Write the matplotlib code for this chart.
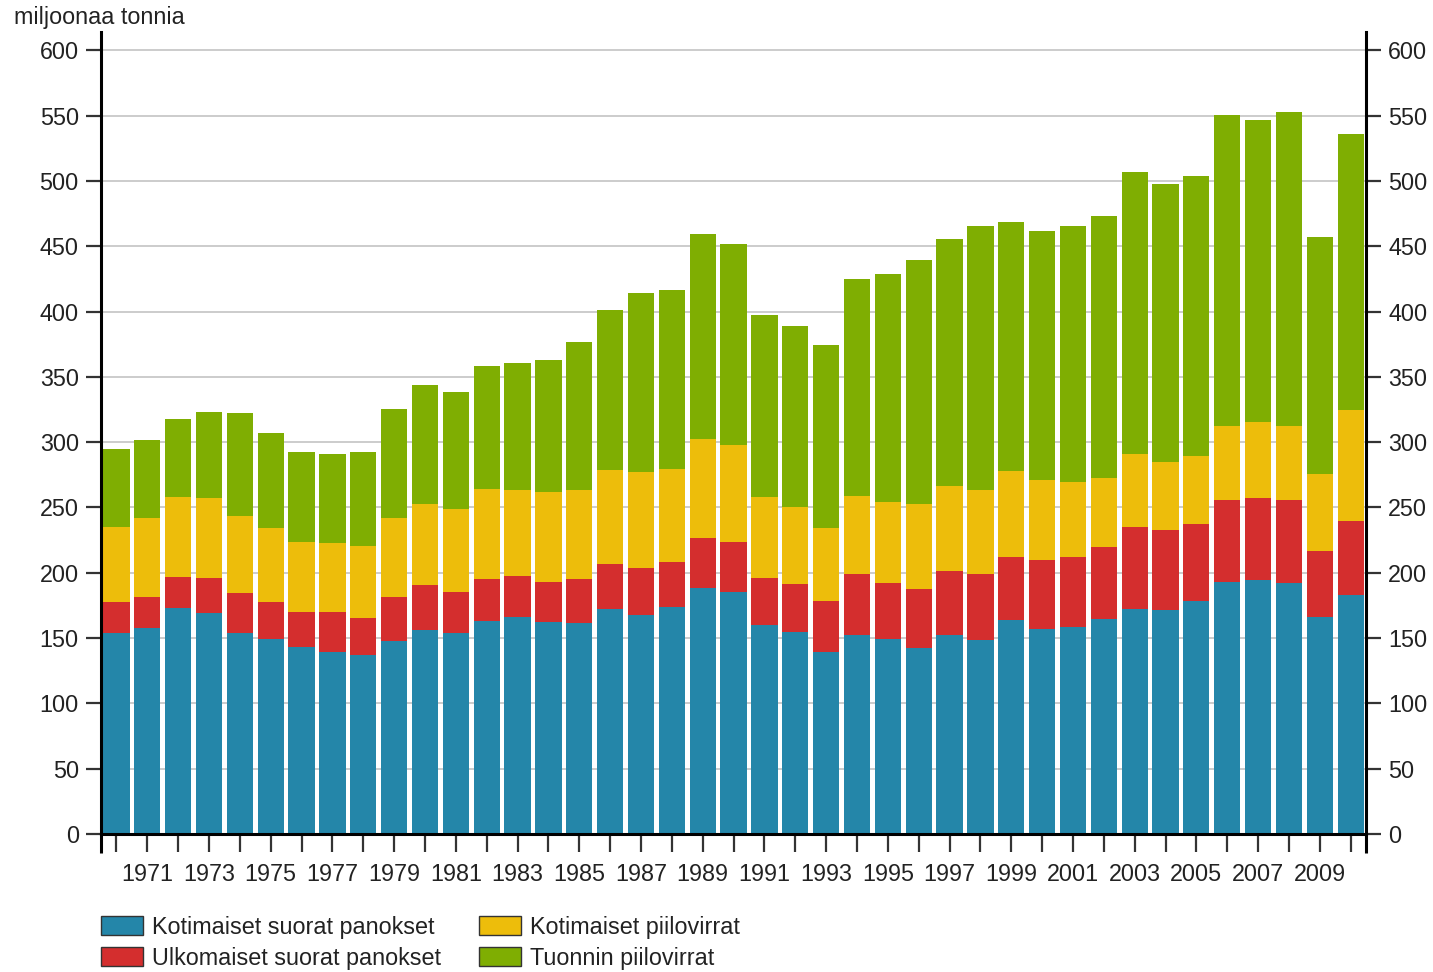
import numpy as np
import matplotlib
matplotlib.use('Agg')
import matplotlib.pyplot as plt
from matplotlib.patches import Patch

plt.rcParams['font.family'] = ['Liberation Sans', 'DejaVu Sans']

# vuodet 1970-2010
years = np.arange(1970, 2011)

# Kotimaiset suorat panokset (miljoonaa tonnia)
kotim_suorat = [153.6, 157.9, 172.7, 168.9, 154.2, 149.0, 143.4, 139.6, 137.0, 148.0,
                156.0, 153.6, 163.0, 165.8, 162.5, 161.7, 171.9, 167.6, 174.0, 188.0,
                185.5, 160.0, 154.3, 139.5, 152.3, 149.0, 142.6, 152.3, 148.5, 163.8,
                156.6, 158.2, 164.9, 172.3, 171.4, 178.5, 193.3, 194.1, 191.9, 166.0,
                183.2]
# Ulkomaiset suorat panokset
ulkom_suorat = [23.7, 23.7, 24.3, 26.8, 30.0, 28.3, 26.8, 30.1, 28.0, 33.6,
                35.0, 31.4, 31.9, 31.6, 30.1, 33.5, 34.5, 35.7, 33.9, 38.3,
                37.7, 35.7, 37.0, 39.1, 46.7, 42.8, 44.9, 49.0, 50.5, 48.4,
                53.1, 54.0, 55.2, 62.8, 61.5, 58.8, 62.3, 62.9, 63.7, 50.8,
                56.8]
# Kotimaiset piilovirrat
kotim_piilo = [57.7, 60.0, 61.0, 61.2, 59.2, 56.6, 53.5, 53.2, 55.6, 60.0,
               61.5, 64.2, 69.6, 65.9, 69.4, 68.1, 72.2, 73.5, 71.9, 76.5,
               74.5, 62.5, 59.2, 55.3, 59.7, 62.5, 65.5, 65.3, 64.3, 65.6,
               61.2, 57.4, 52.5, 55.5, 52.0, 51.9, 56.6, 58.2, 56.9, 58.5,
               84.5]
# Tuonnin piilovirrat
tuonti_piilo = [60.0, 59.9, 59.6, 66.3, 78.6, 72.8, 68.9, 68.4, 72.0, 83.7,
                91.5, 89.3, 93.9, 97.7, 100.7, 113.5, 122.4, 137.5, 137.0, 156.4,
                153.8, 139.0, 138.3, 140.3, 166.0, 174.8, 186.3, 188.7, 202.3, 190.8,
                190.6, 195.7, 200.3, 216.5, 213.1, 214.6, 238.6, 231.5, 240.2, 181.7,
                211.8]

labels = ['Kotimaiset suorat panokset', 'Ulkomaiset suorat panokset',
          'Kotimaiset piilovirrat', 'Tuonnin piilovirrat']
colors = ['#2486a9', '#d42e2e', '#edbd0b', '#7fae02']
series = [kotim_suorat, ulkom_suorat, kotim_piilo, tuonti_piilo]

fs = 16.8

fig = plt.figure(figsize=(14.33, 9.72), dpi=100)
ax = fig.add_axes([0.0705, 0.142, 0.8828, 0.825])

bottom = np.zeros(len(years))
for vals, c in zip(series, colors):
    ax.bar(years, vals, width=0.85, bottom=bottom, color=c, zorder=2)
    bottom += np.array(vals)

ax.set_xlim(1969.5, 2010.5)
ax.set_ylim(0, 614)
ax.set_yticks(np.arange(0, 601, 50))
ax.yaxis.grid(True, color='#c8c8c8', lw=1.3, zorder=0)
ax.set_axisbelow(True)

ax.set_xticks(years)
ax.set_xticklabels([str(y) if y % 2 == 1 else '' for y in years])

for s in ['left', 'right', 'bottom']:
    ax.spines[s].set_linewidth(2.2)
    ax.spines[s].set_color('black')
ax.spines['top'].set_visible(False)

ax.tick_params(axis='x', direction='out', length=13, width=1.6, color='#333333',
               pad=8, labelsize=fs, labelcolor='#222222')
ax.tick_params(axis='y', direction='out', length=11, width=1.6, color='#333333',
               pad=5, labelsize=fs, labelcolor='#222222',
               left=True, right=True, labelleft=True, labelright=True)

# akselien jatkeet alas
for xa in [0, 1]:
    ax.plot([xa, xa], [0, -0.024], transform=ax.transAxes, color='black',
            lw=2.2, clip_on=False, solid_capstyle='butt')

fig.text(0.01, 0.982, 'miljoonaa tonnia', fontsize=fs, color='#222222',
         va='center', ha='left')

handles = [Patch(facecolor=c, edgecolor='#333333', lw=1.0) for c in colors]
fig.legend(handles, labels, ncol=2, loc='upper left',
           bbox_to_anchor=(0.0705, 0.058), frameon=False,
           fontsize=fs, handlelength=1.8, handleheight=0.9,
           handletextpad=0.4, columnspacing=1.6, borderaxespad=0,
           borderpad=0, labelspacing=0.35, labelcolor='#222222')

fig.savefig('out.png', dpi=100)
